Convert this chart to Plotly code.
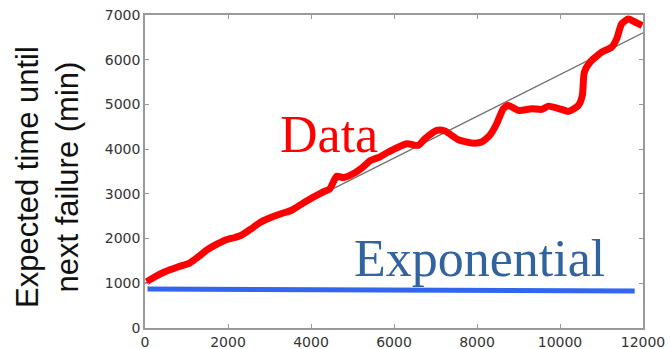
import plotly.graph_objects as go

# Observed mean residual life (minutes) vs. elapsed time (minutes)
data_x = [40, 241, 482, 803, 1084, 1285, 1486, 1687, 1928, 2169, 2329, 2570,
          2790, 2972, 3293, 3534, 3855, 4297, 4450, 4619, 4779, 5060, 5261,
          5422, 5663, 5863, 6305, 6586, 6747, 7028, 7229, 7550, 7871, 8112,
          8313, 8474, 8634, 8755, 8996, 9317, 9558, 9719, 10040, 10201, 10442,
          10538, 10586, 10723, 11004, 11245, 11365, 11486, 11647, 11847, 11980]
data_y = [1034, 1146, 1257, 1369, 1458, 1592, 1741, 1853, 1964, 2024, 2076, 2225,
          2370, 2448, 2560, 2634, 2820, 3043, 3110, 3393, 3364, 3471, 3605,
          3739, 3828, 3936, 4122, 4085, 4234, 4420, 4405, 4211, 4137, 4159,
          4315, 4568, 4904, 4978, 4866, 4904, 4888, 4962, 4888, 4844, 4978,
          5201, 5721, 5944, 6168, 6280, 6466, 6801, 6912, 6823, 6763]

# Linear trend of the data
trend_x = [0, 12000]
trend_y = [1000, 6600]

# Exponential model prediction (near-constant)
expo_x = [60, 11800]
expo_y = [870, 830]

x_ticks = [0, 2000, 4000, 6000, 8000, 10000, 12000]
y_ticks = [0, 1000, 2000, 3000, 4000, 5000, 6000, 7000]

fig = go.Figure()
fig.add_trace(go.Scatter(x=trend_x, y=trend_y, mode="lines",
                         line=dict(color="#6f6f6f", width=1.2),
                         hoverinfo="skip"))
fig.add_trace(go.Scatter(x=data_x, y=data_y, mode="lines",
                         line=dict(color="#ff0000", width=7, shape="spline",
                                   smoothing=0.6)))
fig.add_trace(go.Scatter(x=expo_x, y=expo_y, mode="lines",
                         line=dict(color="#3366ee", width=5)))

axis_common = dict(
    showgrid=False, zeroline=False, showline=True, linecolor="#9a9a9a",
    linewidth=1.5, mirror="allticks", ticks="inside", ticklen=4,
    tickcolor="#9a9a9a", automargin=False,
    tickfont=dict(family="DejaVu Sans", size=14, color="#333333"),
)
fig.update_xaxes(range=[0, 12000], tickvals=x_ticks,
                 ticktext=[str(v) for v in x_ticks], **axis_common)
fig.update_yaxes(range=[0, 7000], tickvals=y_ticks,
                 ticktext=[str(v) for v in y_ticks], **axis_common)

fig.add_annotation(x=4434, y=4330, xref="x", yref="y", text="Data",
                   showarrow=False, xanchor="center", yanchor="middle",
                   font=dict(family="Liberation Serif", size=52,
                             color="#ff0000"))
fig.add_annotation(x=8060, y=1560, xref="x", yref="y", text="Exponential",
                   showarrow=False, xanchor="center", yanchor="middle",
                   font=dict(family="Liberation Serif", size=52,
                             color="#31649f"))
fig.add_annotation(x=-0.197, y=0.482, xref="paper", yref="paper",
                   text="Expected time until<br>next failure (min)",
                   textangle=-90, showarrow=False, xanchor="center",
                   yanchor="middle",
                   font=dict(family="Liberation Sans, Arial", size=31,
                             color="#111111"))

fig.update_layout(
    width=671, height=349, showlegend=False,
    margin=dict(l=145, r=28, t=15, b=21, autoexpand=False),
    paper_bgcolor="white", plot_bgcolor="white",
)

fig.write_html("out.html")
